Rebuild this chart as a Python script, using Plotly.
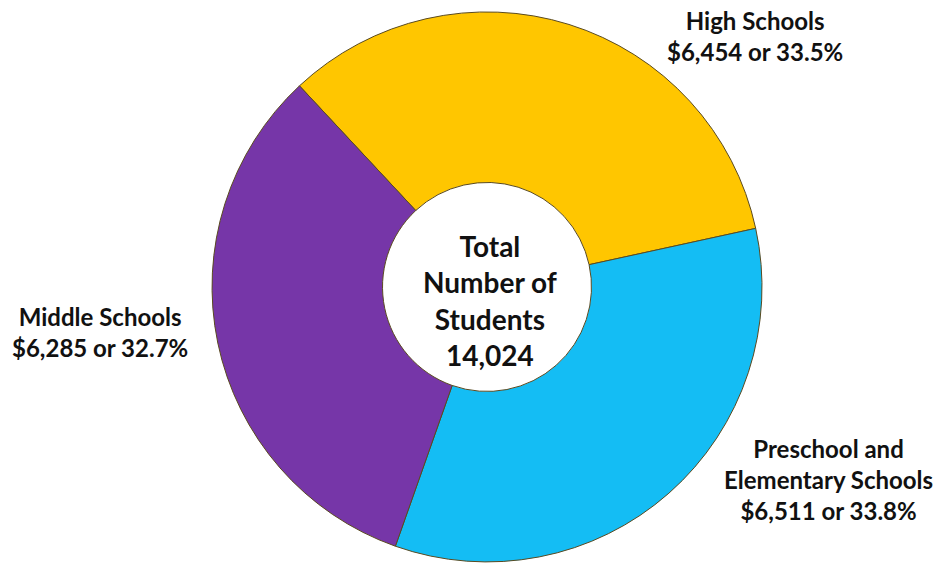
import plotly.graph_objects as go

# Spending per student by school level
categories = ["High Schools", "Preschool and<br>Elementary Schools", "Middle Schools"]
values = [6454, 6511, 6285]
percents = ["33.5%", "33.8%", "32.7%"]
colors = ["#FFC600", "#14BDF4", "#7636A8"]
total_students = "14,024"

# label anchor positions in paper coordinates (x, y)
label_pos = [(0.804, 0.937), (0.882, 0.149), (0.1065, 0.411)]

fig = go.Figure()
fig.add_trace(go.Pie(
    labels=categories,
    values=values,
    sort=False,
    direction="clockwise",
    rotation=-43,
    hole=0.38,
    textinfo="none",
    hoverinfo="label+value",
    marker=dict(colors=colors, line=dict(color="#5a4a20", width=1)),
    domain=dict(x=[0.2258, 0.8115], y=[0.0035, 0.979]),
    showlegend=False,
))

font_family = "Lato, 'Open Sans', Arial, sans-serif"
for cat, val, pct, (x, y) in zip(categories, values, percents, label_pos):
    fig.add_annotation(
        x=x, y=y, xref="paper", yref="paper",
        xanchor="center", yanchor="middle",
        text=f"<b>{cat}<br>${val:,} or {pct}</b>",
        showarrow=False, align="center",
        font=dict(family=font_family, size=24, color="#111111"),
    )

fig.add_annotation(
    x=0.522, y=0.468, xref="paper", yref="paper",
    xanchor="center", yanchor="middle",
    text=f"<b>Total<br>Number of<br>Students<br>{total_students}</b>",
    showarrow=False, align="center",
    font=dict(family=font_family, size=28, color="#111111"),
)

fig.update_layout(
    width=939, height=564,
    margin=dict(l=0, r=0, t=0, b=0),
    paper_bgcolor="white", plot_bgcolor="white",
)

fig.write_html("out.html")
